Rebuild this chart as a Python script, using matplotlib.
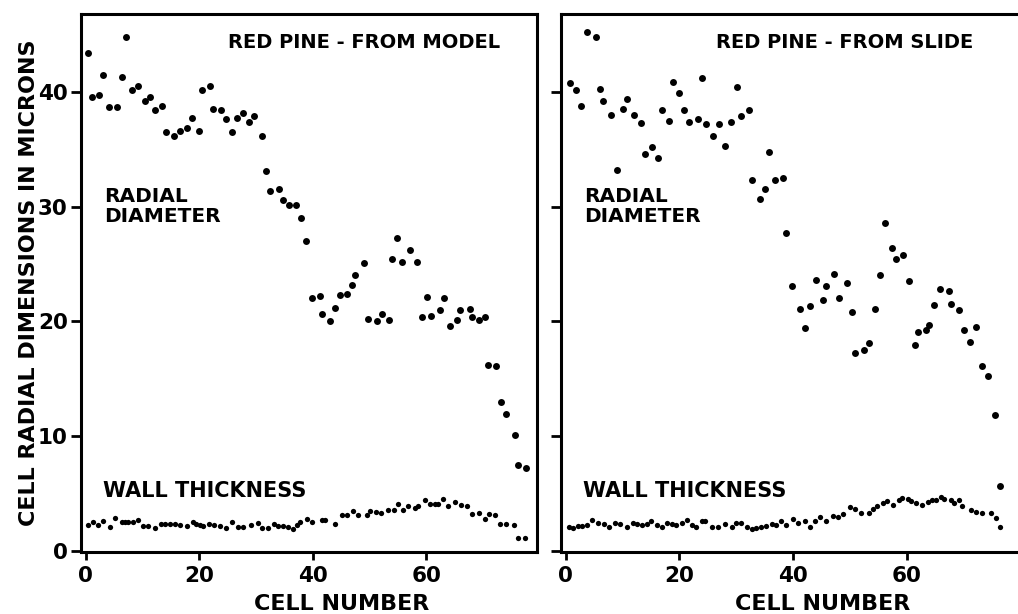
import matplotlib
matplotlib.use("Agg")
import matplotlib.pyplot as plt

plt.rcParams['font.family'] = ['DejaVu Sans']
plt.rcParams['font.weight'] = 'bold'

# ---------------- data ----------------
model_radial_x = [0.5, 1.1, 2.4, 3.0, 4.1, 5.5, 6.5, 7.1, 8.1, 9.3, 10.5, 11.3, 12.3, 13.5,
                  14.2, 15.5, 16.6, 17.8, 18.7, 20.0, 20.5, 21.9, 22.5, 23.8, 24.8, 25.8,
                  26.6, 27.8, 28.7, 29.6, 31.0, 31.8, 32.5, 34.1, 34.8, 35.8, 37.0, 38.0,
                  38.9, 39.8, 41.3, 41.7, 43.1, 43.9, 44.8, 46.1, 47.0, 47.5, 49.0, 49.8,
                  51.4, 52.2, 53.4, 53.9, 54.8, 55.7, 57.1, 58.3, 59.2, 60.1, 60.9, 62.5,
                  63.1, 64.2, 65.5, 66.0, 67.7, 68.0, 69.3, 70.3, 70.8, 72.2, 73.2, 74.1,
                  75.6, 76.2, 77.5]
model_radial_y = [43.4, 39.6, 39.7, 41.5, 38.7, 38.7, 41.3, 44.8, 40.2, 40.5, 39.2, 39.6, 38.4, 38.8,
                  36.5, 36.2, 36.6, 36.9, 37.7, 36.6, 40.2, 40.5, 38.5, 38.4, 37.6, 36.5,
                  37.7, 38.2, 37.4, 37.9, 36.2, 33.1, 31.4, 31.5, 30.6, 30.1, 30.1, 29.0,
                  27.0, 22.0, 22.2, 20.6, 20.0, 21.2, 22.3, 22.4, 23.2, 24.0, 25.1, 20.2,
                  20.0, 20.6, 20.1, 25.4, 27.3, 25.2, 26.2, 25.2, 20.4, 22.1, 20.5, 21.0,
                  22.0, 19.6, 20.1, 21.0, 21.1, 20.4, 20.1, 20.4, 16.2, 16.1, 13.0, 11.9,
                  10.1, 7.5, 7.2]

model_wall_x = [0.5, 1.4, 2.2, 3.1, 4.3, 5.2, 6.4, 6.9, 7.5, 8.4, 9.3, 10.2, 11.0, 12.2,
                13.2, 14.0, 14.9, 15.7, 16.6, 17.8, 18.9, 19.4, 20.1, 20.7, 21.8, 22.7,
                23.7, 24.8, 25.8, 26.9, 27.8, 29.2, 30.3, 31.0, 32.1, 33.1, 33.9, 34.8,
                35.7, 36.5, 37.2, 37.8, 39.0, 39.8, 41.6, 42.2, 43.9, 45.1, 46.0, 47.1,
                48.0, 49.5, 50.1, 51.1, 52.1, 53.3, 54.3, 55.1, 55.9, 56.8, 58.0, 58.6,
                59.8, 60.6, 61.5, 62.0, 62.9, 63.9, 65.0, 66.2, 67.1, 68.0, 69.2, 70.3,
                71.1, 72.1, 73.0, 74.0, 75.4, 76.2, 77.4]
model_wall_y = [2.21, 2.50, 2.27, 2.56, 2.07, 2.85, 2.50, 2.50, 2.50, 2.50, 2.65, 2.13, 2.13, 2.01,
                2.36, 2.36, 2.30, 2.30, 2.27, 2.13, 2.50, 2.36, 2.21, 2.18, 2.30, 2.21,
                2.13, 2.01, 2.50, 2.07, 2.07, 2.21, 2.42, 1.98, 1.93, 2.30, 2.13, 2.13,
                2.07, 1.89, 2.27, 2.48, 2.74, 2.50, 2.65, 2.71, 2.36, 3.09, 3.15, 3.44,
                3.09, 3.15, 3.44, 3.38, 3.29, 3.52, 3.52, 4.10, 3.52, 3.87, 3.73, 3.87,
                4.39, 4.10, 4.10, 4.05, 4.48, 3.87, 4.25, 3.96, 3.90, 3.23, 3.29, 2.80,
                3.17, 3.09, 2.36, 2.30, 2.27, 1.14, 1.14]

slide_radial_x = [0.7, 1.9, 2.7, 3.8, 5.3, 6.0, 6.6, 7.9, 9.0, 10.1, 10.8, 12.0, 13.2, 13.9,
                  15.2, 16.3, 16.9, 18.2, 18.9, 19.9, 20.9, 21.7, 23.3, 23.9, 24.7, 25.9,
                  26.9, 28.0, 29.0, 30.1, 30.8, 32.2, 32.8, 34.2, 35.0, 35.8, 36.8, 38.2,
                  38.8, 39.8, 41.2, 42.0, 43.0, 44.0, 45.3, 45.8, 47.1, 48.0, 49.4, 50.4,
                  50.9, 52.4, 53.3, 54.3, 55.2, 56.2, 57.3, 58.1, 59.3, 60.4, 61.4, 62.0,
                  63.4, 63.8, 64.7, 65.8, 67.3, 67.8, 69.2, 70.0, 71.0, 72.1, 73.1, 74.3,
                  75.4, 76.4]
slide_radial_y = [40.8, 40.2, 38.8, 45.2, 44.8, 40.3, 39.2, 38.0, 33.2, 38.5, 39.4, 38.0, 37.3, 34.6,
                  35.2, 34.2, 38.4, 37.5, 40.9, 39.9, 38.4, 37.4, 37.6, 41.2, 37.2, 36.2,
                  37.2, 35.3, 37.4, 40.4, 37.9, 38.4, 32.3, 30.7, 31.5, 34.8, 32.3, 32.5,
                  27.7, 23.1, 21.1, 19.4, 21.3, 23.6, 21.9, 23.1, 24.1, 22.0, 23.3, 20.8,
                  17.2, 17.5, 18.1, 21.1, 24.0, 28.6, 26.4, 25.4, 25.8, 23.5, 17.9, 19.1,
                  19.2, 19.7, 21.4, 22.8, 22.6, 21.5, 21.0, 19.2, 18.2, 19.5, 16.1, 15.2,
                  11.8, 5.65]

slide_wall_x = [0.6, 1.3, 2.1, 2.9, 3.8, 4.6, 5.7, 6.7, 7.6, 8.7, 9.6, 10.8, 11.8, 12.6,
                13.4, 14.3, 15.1, 16.0, 16.9, 17.8, 18.7, 19.4, 20.4, 21.3, 22.2, 23.0,
                23.9, 24.5, 25.7, 26.8, 28.0, 29.2, 30.0, 30.9, 31.8, 32.7, 33.5, 34.4,
                35.3, 36.2, 37.0, 37.9, 38.8, 40.0, 40.8, 42.0, 42.9, 43.8, 44.7, 45.7,
                47.0, 47.8, 48.7, 49.9, 50.9, 51.9, 53.4, 54.0, 54.8, 55.7, 56.4, 57.5,
                58.6, 59.2, 60.1, 60.7, 61.6, 62.6, 63.6, 64.4, 65.1, 65.9, 66.5, 67.7,
                68.3, 69.1, 69.7, 71.2, 72.1, 73.2, 74.7, 75.6, 76.4]
slide_wall_y = [2.10, 1.96, 2.16, 2.16, 2.25, 2.69, 2.40, 2.34, 2.10, 2.45, 2.34, 2.10, 2.45, 2.34,
                2.25, 2.34, 2.60, 2.25, 2.10, 2.45, 2.34, 2.25, 2.40, 2.69, 2.25, 2.05,
                2.54, 2.54, 2.10, 2.05, 2.34, 2.05, 2.45, 2.40, 2.10, 1.87, 1.96, 2.05,
                2.16, 2.34, 2.25, 2.62, 2.25, 2.75, 2.40, 2.54, 2.05, 2.54, 2.92, 2.54,
                3.03, 2.97, 3.18, 3.79, 3.62, 3.27, 3.32, 3.62, 3.91, 4.19, 4.37, 3.99,
                4.43, 4.58, 4.49, 4.34, 4.14, 3.99, 4.28, 4.43, 4.43, 4.66, 4.49, 4.43,
                4.19, 4.43, 3.85, 3.56, 3.41, 3.27, 3.27, 2.83, 2.05]

x_ticks = [0, 20, 40, 60]
y_ticks = [0, 10, 20, 30, 40]
titles = ["RED PINE - FROM MODEL", "RED PINE - FROM SLIDE"]

# ---------------- figure ----------------
W, H = 1018, 614
fig = plt.figure(figsize=(W / 100, H / 100), dpi=100)

def frac_box(l, r, t, b):
    return [l / W, 1 - b / H, (r - l) / W, (b - t) / H]

ax1 = fig.add_axes(frac_box(81, 537, 14, 552))
ax2 = fig.add_axes(frac_box(561, 1018, 14, 552))

panels = [
    (ax1, model_radial_x, model_radial_y, model_wall_x, model_wall_y, titles[0]),
    (ax2, slide_radial_x, slide_radial_y, slide_wall_x, slide_wall_y, titles[1]),
]

for i, (ax, rx, ry, wx, wy, title) in enumerate(panels):
    ax.plot(rx, ry, 'o', color='black', markersize=5.0, markeredgewidth=0, linestyle='none')
    ax.plot(wx, wy, 'o', color='black', markersize=3.8, markeredgewidth=0, linestyle='none')
    ax.set_xlim(-0.8, 79.5)
    ax.set_ylim(-0.12, 46.8)
    ax.set_xticks(x_ticks)
    ax.set_yticks(y_ticks)
    ax.tick_params(axis='both', direction='out', width=2, color='black', labelsize=15.5)
    ax.tick_params(axis='y', length=7.5, pad=2)
    ax.tick_params(axis='x', length=6, pad=4)
    for side in ['left', 'bottom', 'top', 'right']:
        ax.spines[side].set_linewidth(2.2)
    ax.set_xlabel("CELL NUMBER", fontsize=16, fontweight='bold')
    ax.xaxis.set_label_coords(0.572, -0.078)
    ax.text(49.0, 43.8, title, fontsize=14, ha='center', va='baseline')
    ax.text(3.3, 31.7, "RADIAL\nDIAMETER", fontsize=14.5, ha='left', va='top', linespacing=1.05)
    ax.text(3.0, 4.7, "WALL THICKNESS", fontsize=15, ha='left', va='baseline')

ax2.spines['right'].set_visible(False)
ax2.set_yticklabels([])

ax1.set_ylabel("CELL RADIAL DIMENSIONS IN MICRONS", fontsize=16, fontweight='bold')
ax1.yaxis.set_label_coords(-0.092, 0.5)

fig.savefig("out.png", dpi=100)
